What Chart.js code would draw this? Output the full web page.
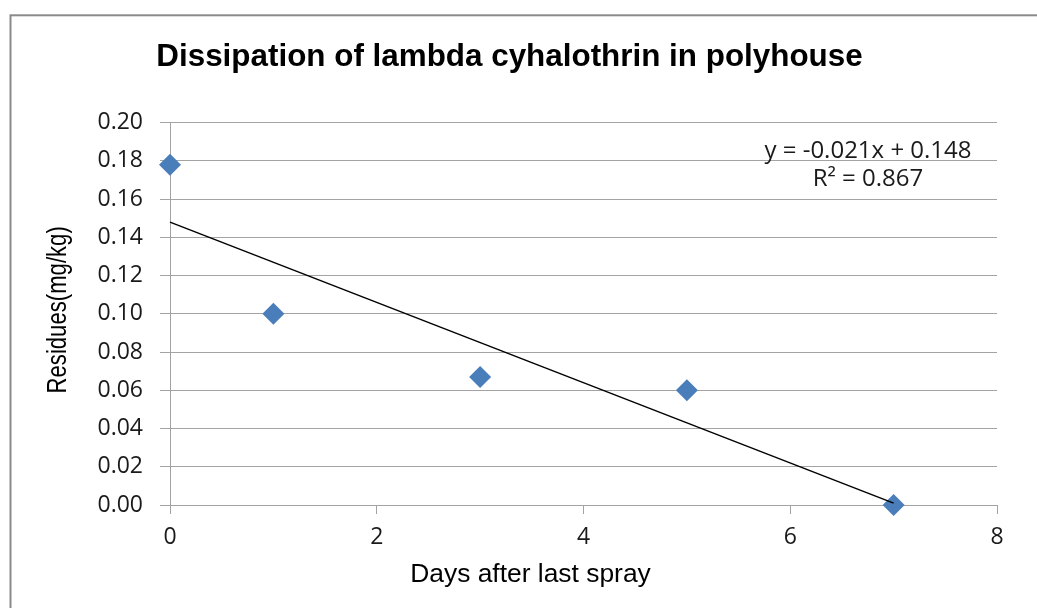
<!DOCTYPE html>
<html>
<head>
<meta charset="utf-8">
<script src="https://cdn.jsdelivr.net/npm/chart.js@4/dist/chart.umd.min.js"></script>
<style>
  html, body { margin: 0; padding: 0; background: #ffffff; }
  #c { display: block; }
</style>
</head>
<body>
<canvas id="c" width="1037" height="608"></canvas>
<script>
// ---- data ----
const days = [0, 1, 3, 5, 7];
const residues = [0.178, 0.100, 0.067, 0.060, 0.000];
const trendDays = [0, 7];
const trendResidues = [0.148, 0.001];
const xTickValues = [0, 2, 4, 6, 8];
const yTickValues = [0.00, 0.02, 0.04, 0.06, 0.08, 0.10, 0.12, 0.14, 0.16, 0.18, 0.20];
const titleText = 'Dissipation of lambda cyhalothrin in polyhouse';
const xTitle = 'Days after last spray';
const yTitle = 'Residues(mg/kg)';
const equationLines = ['y = -0.021x + 0.148', 'R\u00B2 = 0.867'];

const pointData = days.map((d, i) => ({ x: d, y: residues[i] }));
const trendData = trendDays.map((d, i) => ({ x: d, y: trendResidues[i] }));

const tickFont = { family: '"Open Sans", "Noto Sans", sans-serif', size: 23 };
const gridColor = '#a3a3a3';

const framePlugin = {
  id: 'frame',
  beforeDraw(chart) {
    const ctx = chart.ctx;
    ctx.save();
    ctx.fillStyle = '#ffffff';
    ctx.fillRect(0, 0, chart.width, chart.height);
    ctx.strokeStyle = '#8a8a8a';
    ctx.lineWidth = 2;
    ctx.strokeRect(10.5, 15.3, 1200, 1000);
    ctx.restore();
  }
};

const annotationPlugin = {
  id: 'annotations',
  afterDatasetsDraw(chart) {
    const { ctx, chartArea } = chart;
    ctx.save();
    ctx.font = '24px "Open Sans", "Noto Sans", sans-serif';
    ctx.fillStyle = '#1a1a1a';
    ctx.textAlign = 'center';
    ctx.textBaseline = 'alphabetic';
    const cx = chartArea.right - 129;
    ctx.fillText(equationLines[0], cx, chartArea.top + 35);
    ctx.fillText(equationLines[1], cx, chartArea.top + 63);
    // x axis title (offset to the left of the plot centre, as in the reference)
    ctx.font = '26.4px "Liberation Sans", Arial, sans-serif';
    ctx.fillStyle = '#000000';
    ctx.textBaseline = 'middle';
    ctx.fillText(xTitle, 530.5, chartArea.bottom + 70);
    ctx.restore();
    // y axis title: condensed, rotated
    ctx.save();
    ctx.translate(58.6, (chartArea.top + chartArea.bottom) / 2 - 4);
    ctx.rotate(-Math.PI / 2);
    ctx.scale(0.79, 1);
    ctx.font = '28px "Liberation Sans", Arial, sans-serif';
    ctx.fillStyle = '#000000';
    ctx.textAlign = 'center';
    ctx.textBaseline = 'middle';
    ctx.fillText(yTitle, 0, 0);
    ctx.restore();
  }
};

new Chart(document.getElementById('c'), {
  type: 'scatter',
  data: {
    datasets: [
      {
        label: 'Linear trend',
        type: 'line',
        data: trendData,
        borderColor: '#000000',
        borderWidth: 1.5,
        pointRadius: 0,
        fill: false,
        tension: 0,
        clip: false,
        order: 0
      },
      {
        label: 'Residues',
        data: pointData,
        pointStyle: 'rectRot',
        pointRadius: 11,
        pointHoverRadius: 11,
        backgroundColor: '#4a7ebb',
        borderColor: '#4a7ebb',
        borderWidth: 0,
        showLine: false,
        clip: false,
        order: 1
      }
    ]
  },
  options: {
    responsive: false,
    animation: false,
    devicePixelRatio: 1,
    layout: { padding: { left: 22, right: 40, top: 0, bottom: 0 } },
    plugins: {
      legend: { display: false },
      tooltip: { enabled: false },
      title: {
        display: true,
        text: titleText,
        color: '#000000',
        font: { family: '"Liberation Sans", Arial, sans-serif', size: 31.4, weight: 'bold' },
        padding: { top: 39, bottom: 46 }
      }
    },
    scales: {
      x: {
        type: 'linear',
        min: 0,
        max: 8,
        afterBuildTicks(scale) { scale.ticks = xTickValues.map(v => ({ value: v })); },
        afterFit(scale) { scale.height = 103; },
        ticks: {
          color: '#1a1a1a',
          font: tickFont,
          padding: 10,
          maxRotation: 0,
          callback: v => String(v)
        },
        grid: {
          drawOnChartArea: false,
          drawTicks: true,
          tickLength: 9,
          color: gridColor,
          lineWidth: 1
        },
        border: { display: true, color: gridColor, width: 1 },
        title: { display: false, text: xTitle }
      },
      y: {
        type: 'linear',
        min: 0,
        max: 0.2,
        afterBuildTicks(scale) { scale.ticks = yTickValues.map(v => ({ value: v })); },
        afterFit(scale) { scale.width = 148; },
        ticks: {
          color: '#1a1a1a',
          font: tickFont,
          padding: 17,
          callback: v => Number(v).toFixed(2)
        },
        grid: {
          drawOnChartArea: true,
          drawTicks: true,
          tickLength: 10,
          color: gridColor,
          lineWidth: 1
        },
        border: { display: true, color: gridColor, width: 1 },
        title: { display: false, text: yTitle }
      }
    }
  },
  plugins: [framePlugin, annotationPlugin]
});
</script>
</body>
</html>
